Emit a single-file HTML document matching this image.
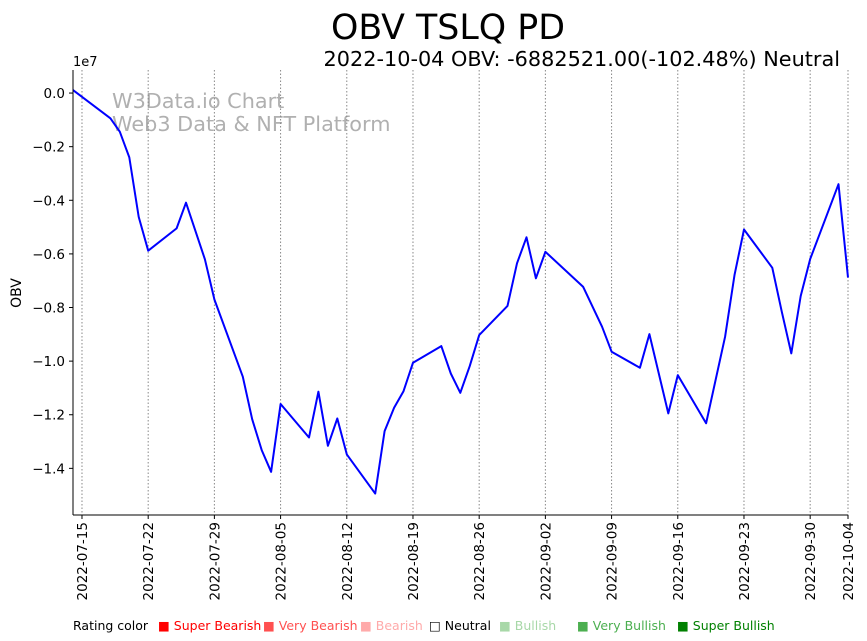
<!DOCTYPE html>
<html><head><meta charset="utf-8"><style>
body{margin:0;background:#fff;}
svg{display:block;font-family:"DejaVu Sans","Liberation Sans",sans-serif;}
</style></head><body>
<svg id="chart" width="867" height="641">
<text x="448" y="39" text-anchor="middle" font-size="34.8">OBV TSLQ PD</text>
<text x="840" y="66" text-anchor="end" font-size="20.8">2022-10-04 OBV: -6882521.00(-102.48%) Neutral</text>
<text x="73" y="66" font-size="13">1e7</text>
<text x="112" y="108" font-size="20.8" fill="#b0b0b0">W3Data.io Chart</text>
<text x="112" y="131" font-size="20.8" fill="#b0b0b0">Web3 Data &amp; NFT Platform</text>
<text transform="translate(21,293) rotate(-90)" text-anchor="middle" font-size="14">OBV</text>
<g id="grid"></g><g id="yt"></g><g id="xt"></g>
<path id="line" fill="none" stroke="#0000ff" stroke-width="2" stroke-linejoin="round"></path>
<line x1="73" y1="70" x2="73" y2="515" stroke="#000"></line>
<line x1="73" y1="515" x2="848" y2="515" stroke="#000"></line>
<g font-size="12.5">
<text x="73" y="630">Rating color</text>
<text x="158" y="630" fill="#ff0000">■ Super Bearish</text>
<text x="263" y="630" fill="#ff5050">■ Very Bearish</text>
<text x="360" y="630" fill="#ffaaaa">■ Bearish</text>
<text x="429" y="630" fill="#000">□ Neutral</text>
<text x="499" y="630" fill="#a8d8a8">■ Bullish</text>
<text x="577" y="630" fill="#4caf50">■ Very Bullish</text>
<text x="677" y="630" fill="#008000">■ Super Bullish</text>
</g>
</svg>
<script>
const dayOffsets=[-1,3,4,5,6,7,10,11,13,14,17,18,19,20,21,24,25,26,27,28,31,32,33,34,35,38,39,40,41,42,45,46,47,48,49,53,55,56,59,60,62,63,66,68,69,70,73,74,75,76,77,80,81];
const obvMillions=[0.11,-0.94,-1.44,-2.40,-4.62,-5.88,-5.05,-4.09,-6.20,-7.70,-10.58,-12.17,-13.32,-14.13,-11.60,-12.85,-11.14,-13.16,-12.14,-13.48,-14.94,-12.61,-11.74,-11.12,-10.06,-9.44,-10.46,-11.18,-10.19,-9.03,-7.94,-6.35,-5.38,-6.91,-5.92,-7.23,-8.72,-9.65,-10.25,-8.99,-11.95,-10.52,-12.32,-9.09,-6.79,-5.09,-6.52,-8.16,-9.71,-7.57,-6.19,-3.40,-6.88];
const xTickDays=[0,7,14,21,28,35,42,49,56,63,70,77,81];
const xTickLabels=["2022-07-15","2022-07-22","2022-07-29","2022-08-05","2022-08-12","2022-08-19","2022-08-26","2022-09-02","2022-09-09","2022-09-16","2022-09-23","2022-09-30","2022-10-04"];
const yTickValues=[0,-2,-4,-6,-8,-10,-12,-14];
const yTickLabels=["0.0","−0.2","−0.4","−0.6","−0.8","−1.0","−1.2","−1.4"];
const NS="http://www.w3.org/2000/svg";
const X0=73,X1=848,Y0=70,Y1=515,DMIN=-0.95,DMAX=81,VMAX=0.86,VMIN=-15.74;
const xs=d=>X0+(d-DMIN)/(DMAX-DMIN)*(X1-X0);
const ys=v=>Y0+(VMAX-v)/(VMAX-VMIN)*(Y1-Y0);
function mk(t,a,p){const e=document.createElementNS(NS,t);for(const k in a)e.setAttribute(k,a[k]);p.appendChild(e);return e;}
const grid=document.getElementById('grid'),xt=document.getElementById('xt'),yt=document.getElementById('yt');
xTickDays.forEach((d,i)=>{const x=xs(d);
 const g=mk('line',{x1:x,x2:x,y1:Y0,y2:Y1,stroke:'#888','stroke-dasharray':'1.5,2','stroke-width':1},grid);
 
 
 mk('line',{x1:x,x2:x,y1:Y1,y2:Y1+4,stroke:'#000'},xt);
 const t=mk('text',{transform:`translate(${x+5},${Y1+7}) rotate(-90)`,'text-anchor':'end','font-size':13.5},xt);
 t.textContent=xTickLabels[i];
 
 
});
yTickValues.forEach((v,i)=>{const y=ys(v);
 mk('line',{x1:X0-4,x2:X0,y1:y,y2:y,stroke:'#000'},yt);
 const t=mk('text',{x:X0-8,y:y+5,'text-anchor':'end','font-size':13.5},yt);
 t.textContent=yTickLabels[i];
 
 
});
document.getElementById('line').setAttribute('d',dayOffsets.map((d,i)=>(i?'L':'M')+xs(Math.max(d,DMIN)).toFixed(1)+','+ys(obvMillions[i]).toFixed(1)).join(''));
</script>
</body></html>
